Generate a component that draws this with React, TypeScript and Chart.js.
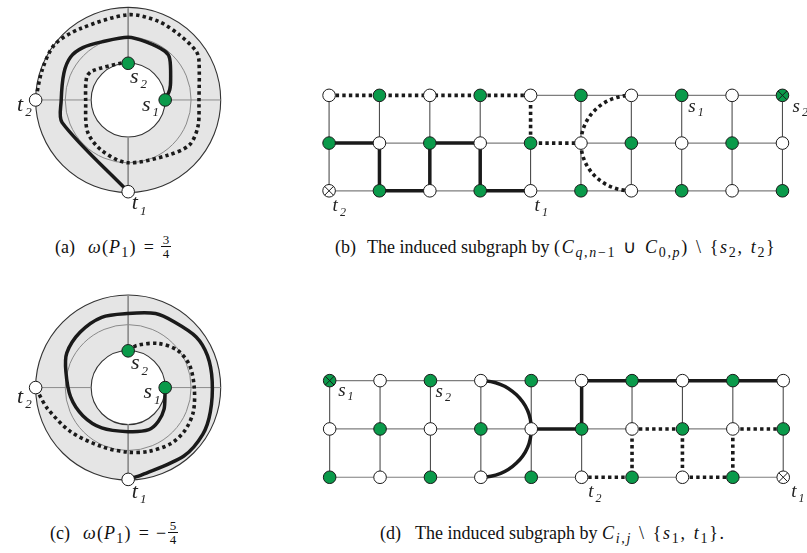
import React, { useEffect, useRef } from "react";
import { Chart, registerables } from "chart.js";

Chart.register(...registerables);

type Pt = [number, number];

// ===================== DATA =====================
// (a), (c): circular drawings. Unit = radius of the outer circle, centre = (0,0)
const RING_INNER = 0.4;
const RING_MIDDLE = 0.68;
const RING_OUTER = 1;

const CIRCLE_NODE_X = [0, 0.4, -1, 0]; // s2, s1, t2, t1
const CIRCLE_NODE_Y = [0.4, 0, 0, -1];
const CIRCLE_NODE_KIND = ["g", "g", "w", "w"];

const A_SOLID_PATH: Pt[] = [
  [0, -1], [-0.714, -0.245], [-0.724, -0.01], [-0.694, 0.296], [-0.622, 0.469],
  [-0.49, 0.571], [-0.286, 0.633], [0, 0.684], [0.194, 0.633], [0.398, 0.531],
  [0.449, 0.449], [0.459, 0.224], [0.449, 0.112], [0.4, 0],
];
const A_DOTTED_PATH: Pt[] = [
  [0, 0.4], [-0.08, 0.4], [-0.388, 0.316], [-0.449, 0.245], [-0.459, -0.01],
  [-0.439, -0.347], [-0.286, -0.551], [-0.01, -0.684], [0.429, -0.602], [0.663, -0.49],
  [0.755, -0.286], [0.765, -0.01], [0.765, 0.429], [0.735, 0.531], [0.561, 0.704],
  [0.327, 0.857], [0, 0.929], [-0.52, 0.776], [-0.796, 0.602], [-0.929, 0.327], [-1, 0],
];
const C_SOLID_PATH: Pt[] = [
  [0, -1], [0.153, -0.949], [0.602, -0.745], [0.806, -0.51], [0.888, -0.265],
  [0.908, 0.071], [0.857, 0.347], [0.735, 0.551], [0.5, 0.714], [0.296, 0.806],
  [-0.01, 0.806], [-0.286, 0.765], [-0.52, 0.602], [-0.663, 0.378], [-0.673, 0.173],
  [-0.622, -0.102], [-0.49, -0.306], [-0.286, -0.439], [0, -0.48], [0.224, -0.459],
  [0.327, -0.367], [0.388, -0.235], [0.398, -0.082], [0.4, 0],
];
const C_DOTTED_PATH: Pt[] = [
  [0, 0.4], [0.092, 0.459], [0.327, 0.48], [0.531, 0.408], [0.663, 0.245],
  [0.714, 0], [0.704, -0.265], [0.612, -0.469], [0.459, -0.612], [0.224, -0.694],
  [0, -0.704], [-0.286, -0.643], [-0.622, -0.48], [-0.867, -0.235], [-0.969, -0.061], [-1, 0],
];

const A_LABELS = [
  { t: "s", sub: "2", x: 0.02, y: 0.19 },
  { t: "s", sub: "1", x: 0.15, y: -0.115 },
  { t: "t", sub: "2", x: -1.2, y: -0.115 },
  { t: "t", sub: "1", x: 0.04, y: -1.19 },
];
const C_LABELS = [
  { t: "s", sub: "2", x: 0.03, y: 0.2 },
  { t: "s", sub: "1", x: 0.165, y: -0.115 },
  { t: "t", sub: "2", x: -1.2, y: -0.165 },
  { t: "t", sub: "1", x: 0.04, y: -1.2 },
];

// (b), (d): 3 x 10 grid graphs. x = column, y = row (0 = top row)
const GRID_COLS = [0, 1, 2, 3, 4, 5, 6, 7, 8, 9];
const GRID_ROWS = [0, 1, 2];
// g = green, w = white, upper case = crossed-out vertex
const B_NODE_ROWS = ["wgwgwgwgwG", "gwgwgwgwgw", "Wgwgwgwgwg"];
const D_NODE_ROWS = ["Gwgwgwgwgw", "wgwgwgwgwg", "gwgwgwgwgW"];

const B_SOLID_PATH: Pt[] = [[0, 1], [1, 1], [1, 2], [2, 2], [2, 1], [3, 1], [3, 2], [4, 2]];
const B_DOTTED_PATH: Pt[] = [[0, 0], [1, 0], [2, 0], [3, 0], [4, 0], [4, 1], [5, 1]];
const B_DOTTED_ARC = { cx: 6, cy: 1, r: 1, side: "left" };

const D_SOLID_PATH: Pt[] = [[4, 1], [5, 1], [5, 0], [6, 0], [7, 0], [8, 0], [9, 0]];
const D_SOLID_ARC = { cx: 3, cy: 1, r: 1, side: "right" };
const D_DOTTED_PATH: Pt[] = [[5, 2], [6, 2], [6, 1], [7, 1], [7, 2], [8, 2], [8, 1], [9, 1]];

const B_LABELS = [
  { t: "t", sub: "2", x: 0.07, y: 2.42 },
  { t: "t", sub: "1", x: 4.08, y: 2.42 },
  { t: "s", sub: "1", x: 7.13, y: 0.34 },
  { t: "s", sub: "2", x: 9.2, y: 0.34 },
];
const D_LABELS = [
  { t: "s", sub: "1", x: 0.17, y: 0.31 },
  { t: "s", sub: "2", x: 2.1, y: 0.33 },
  { t: "t", sub: "2", x: 5.13, y: 2.41 },
  { t: "t", sub: "1", x: 9.16, y: 2.41 },
];

// ===================== STYLE =====================
const GREEN = "#0a9a4a";
const WHITE = "#ffffff";
const INK = "#1a1a1a";
const THICK = 3.5;
const DOT_W = 3.6;
const DOT_DASH = [3.4, 3.2];
const SERIF = '"Liberation Serif", "Times New Roman", serif';

const toXY = (pts: Pt[]) => pts.map(([x, y]) => ({ x, y }));

function lineDS(pts: Pt[], opts: any) {
  return {
    data: toXY(pts),
    showLine: true,
    pointRadius: 0,
    pointHoverRadius: 0,
    fill: false,
    ...opts,
  };
}

function nodesDS(pts: Pt[], kinds: string[]) {
  return {
    data: toXY(pts),
    showLine: false,
    pointRadius: 6.3,
    pointHoverRadius: 6.3,
    pointBackgroundColor: kinds.map((k) => (k.toLowerCase() === "g" ? GREEN : WHITE)),
    pointBorderColor: INK,
    pointBorderWidth: 1,
    order: 1,
    isNodes: true,
  };
}

function crossDS(pts: Pt[]) {
  return {
    data: toXY(pts),
    showLine: false,
    pointStyle: "crossRot",
    pointRadius: 6.3,
    pointHoverRadius: 6.3,
    pointBorderColor: INK,
    pointBorderWidth: 1,
    order: 0,
  };
}

const CROSS_SEGMENTS: Pt[][] = [
  [[0, RING_OUTER], [0, RING_INNER]],
  [[0, -RING_INNER], [0, -RING_OUTER]],
  [[-RING_OUTER, 0], [-RING_INNER, 0]],
  [[RING_INNER, 0], [RING_OUTER, 0]],
];

function circleDatasets(solid: Pt[], dotted: Pt[]) {
  const ds: any[] = [];
  CROSS_SEGMENTS.forEach((seg) => ds.push(lineDS(seg, { borderColor: "#8c8c8c", borderWidth: 1, order: 6 })));
  ds.push(lineDS(dotted, { borderColor: INK, borderWidth: DOT_W, borderDash: DOT_DASH, tension: 0.3, order: 4 }));
  ds.push(lineDS(solid, { borderColor: INK, borderWidth: THICK, tension: 0.3, order: 3 }));
  const pts: Pt[] = CIRCLE_NODE_X.map((x, i) => [x, CIRCLE_NODE_Y[i]]);
  ds.push(nodesDS(pts, CIRCLE_NODE_KIND));
  return ds;
}

function gridDatasets(rows: string[], solid: Pt[], dotted: Pt[]) {
  const ds: any[] = [];
  const key = (a: Pt, b: Pt) => {
    const s = [a.join(","), b.join(",")].sort();
    return s.join("|");
  };
  const hidden = new Set<string>();
  for (let i = 1; i < dotted.length; i++) hidden.add(key(dotted[i - 1], dotted[i]));
  GRID_ROWS.forEach((r) => {
    for (let i = 1; i < GRID_COLS.length; i++) {
      const a: Pt = [GRID_COLS[i - 1], r];
      const b: Pt = [GRID_COLS[i], r];
      if (hidden.has(key(a, b))) continue;
      ds.push(lineDS([a, b], { borderColor: "#7e7e7e", borderWidth: 1.2, order: 6 }));
    }
  });
  GRID_COLS.forEach((c) => {
    for (let j = 1; j < GRID_ROWS.length; j++) {
      const a: Pt = [c, GRID_ROWS[j - 1]];
      const b: Pt = [c, GRID_ROWS[j]];
      if (hidden.has(key(a, b))) continue;
      ds.push(lineDS([a, b], { borderColor: "#4e4e4e", borderWidth: 1.1, order: 6 }));
    }
  });
  ds.push(lineDS(dotted, { borderColor: INK, borderWidth: DOT_W, borderDash: DOT_DASH, order: 4 }));
  ds.push(lineDS(solid, { borderColor: INK, borderWidth: THICK, order: 3 }));
  const pts: Pt[] = [];
  const kinds: string[] = [];
  const crossed: Pt[] = [];
  GRID_ROWS.forEach((r) =>
    GRID_COLS.forEach((c) => {
      const k = rows[r][c];
      pts.push([c, r]);
      kinds.push(k);
      if (k === k.toUpperCase()) crossed.push([c, r]);
    })
  );
  ds.push(nodesDS(pts, kinds));
  ds.push(crossDS(crossed));
  return ds;
}

// ===================== PLUGINS =====================
const ringPlugin = {
  id: "rings",
  beforeDatasetsDraw(chart: any) {
    const { ctx } = chart;
    const xs = chart.scales.x;
    const ys = chart.scales.y;
    const cx = xs.getPixelForValue(0);
    const cy = ys.getPixelForValue(0);
    const rad = (v: number) => xs.getPixelForValue(v) - cx;
    ctx.save();
    ctx.beginPath();
    ctx.arc(cx, cy, rad(RING_OUTER), 0, Math.PI * 2);
    ctx.moveTo(cx + rad(RING_INNER), cy);
    ctx.arc(cx, cy, rad(RING_INNER), 0, Math.PI * 2);
    ctx.fillStyle = "#e5e5e5";
    ctx.fill("evenodd");
    ctx.lineWidth = 1.1;
    ctx.strokeStyle = "#333";
    ctx.beginPath();
    ctx.arc(cx, cy, rad(RING_OUTER), 0, Math.PI * 2);
    ctx.stroke();
    ctx.beginPath();
    ctx.arc(cx, cy, rad(RING_INNER), 0, Math.PI * 2);
    ctx.stroke();
    ctx.lineWidth = 1;
    ctx.strokeStyle = "#8a8a8a";
    ctx.beginPath();
    ctx.arc(cx, cy, rad(RING_MIDDLE), 0, Math.PI * 2);
    ctx.stroke();
    ctx.restore();
  },
};

function arcPlugin(arc: any, dashed: boolean) {
  return {
    id: "arcs",
    beforeDatasetDraw(chart: any, args: any) {
      if (!chart.data.datasets[args.index].isNodes) return;
      const { ctx } = chart;
      const xs = chart.scales.x;
      const ys = chart.scales.y;
      const px = xs.getPixelForValue(arc.cx);
      const py = ys.getPixelForValue(arc.cy);
      const rx = Math.abs(xs.getPixelForValue(arc.cx + arc.r) - px);
      const ry = Math.abs(ys.getPixelForValue(arc.cy + arc.r) - py);
      ctx.save();
      ctx.beginPath();
      if (arc.side === "left") ctx.ellipse(px, py, rx, ry, 0, Math.PI / 2, Math.PI * 1.5);
      else ctx.ellipse(px, py, rx, ry, 0, -Math.PI / 2, Math.PI / 2);
      ctx.strokeStyle = INK;
      ctx.lineWidth = dashed ? DOT_W : THICK;
      ctx.setLineDash(dashed ? DOT_DASH : []);
      ctx.stroke();
      ctx.restore();
    },
  };
}

function labelPlugin(labels: any[], size: number, subSize: number) {
  return {
    id: "labels",
    afterDatasetsDraw(chart: any) {
      const { ctx } = chart;
      const xs = chart.scales.x;
      const ys = chart.scales.y;
      ctx.save();
      ctx.fillStyle = "#222";
      ctx.textBaseline = "alphabetic";
      ctx.textAlign = "left";
      labels.forEach((l) => {
        const px = xs.getPixelForValue(l.x);
        const py = ys.getPixelForValue(l.y);
        ctx.font = `italic ${size}px ${SERIF}`;
        ctx.fillText(l.t, px, py);
        const w = ctx.measureText(l.t).width;
        ctx.font = `italic ${subSize}px ${SERIF}`;
        ctx.fillText(l.sub, px + w + 2, py + size * 0.25);
      });
      ctx.restore();
    },
  };
}

// ===================== FRAMES =====================
function makeFrame(f: { left: number; top: number; w: number; h: number; ox: number; oy: number; ux: number; uy: number; down: boolean }) {
  const xMin = (f.left - f.ox) / f.ux;
  const xMax = (f.left + f.w - f.ox) / f.ux;
  let yMin: number, yMax: number;
  if (f.down) {
    yMin = (f.top - f.oy) / f.uy;
    yMax = (f.top + f.h - f.oy) / f.uy;
  } else {
    yMax = (f.oy - f.top) / f.uy;
    yMin = (f.oy - f.top - f.h) / f.uy;
  }
  return { ...f, xMin, xMax, yMin, yMax, reverse: f.down };
}

const FRAME_A = makeFrame({ left: 0, top: 0, w: 262, h: 228, ox: 128, oy: 99, ux: 98, uy: 98, down: false });
const FRAME_C = makeFrame({ left: 0, top: 280, w: 262, h: 232, ox: 128, oy: 387, ux: 98, uy: 98, down: false });
const FRAME_B = makeFrame({ left: 290, top: 60, w: 517, h: 170, ox: 322.7, oy: 90.7, ux: 51.84, uy: 52.2, down: true });
const FRAME_D = makeFrame({ left: 290, top: 345, w: 517, h: 170, ox: 323.3, oy: 376, ux: 51.86, uy: 52.85, down: true });

function buildConfig(frame: any, datasets: any[], plugins: any[]) {
  return {
    type: "scatter",
    data: { datasets },
    options: {
      animation: false,
      responsive: false,
      maintainAspectRatio: false,
      events: [],
      layout: { padding: 0 },
      plugins: { legend: { display: false }, tooltip: { enabled: false }, title: { display: false } },
      scales: {
        x: { type: "linear", min: frame.xMin, max: frame.xMax, display: false },
        y: { type: "linear", min: frame.yMin, max: frame.yMax, reverse: frame.reverse, display: false },
      },
    },
    plugins,
  } as any;
}

function Panel({ frame, build }: { frame: any; build: () => any }) {
  const ref = useRef<HTMLCanvasElement>(null);
  useEffect(() => {
    const chart = new Chart(ref.current as HTMLCanvasElement, build());
    return () => chart.destroy();
  }, []);
  return (
    <canvas
      ref={ref}
      width={frame.w}
      height={frame.h}
      style={{ position: "absolute", left: frame.left, top: frame.top, width: frame.w, height: frame.h }}
    />
  );
}

// ===================== CAPTIONS =====================
function Sub({ children }: { children: any }) {
  return <span style={{ fontSize: 14, position: "relative", top: 4, lineHeight: 1 }}>{children}</span>;
}
function M({ children, ls = 1.2 }: { children: any; ls?: number }) {
  return <span style={{ letterSpacing: ls }}>{children}</span>;
}
function Frac({ n, d }: { n: string; d: string }) {
  const w = 10;
  return (
    <span style={{ display: "inline-block", position: "relative", width: w, height: 0 }}>
      <span style={{ position: "absolute", left: 0, width: w, textAlign: "center", top: -19.6, fontSize: 13, lineHeight: "13px" }}>{n}</span>
      <span style={{ position: "absolute", left: 0, width: w, top: -6.9, height: 0.8, background: "#111" }} />
      <span style={{ position: "absolute", left: 0, width: w, textAlign: "center", top: -6.3, fontSize: 13, lineHeight: "13px" }}>{d}</span>
    </span>
  );
}
const Gap = ({ w }: { w: number }) => <span style={{ display: "inline-block", width: w }} />;
const cap = (left: number, top: number): any => ({
  position: "absolute",
  left,
  top,
  fontFamily: SERIF,
  fontSize: 18,
  lineHeight: "22px",
  whiteSpace: "nowrap",
  color: "#111",
});

export default function App() {
  return (
    <div style={{ position: "absolute", left: 0, top: 0, width: 807, height: 553, background: "#fff", overflow: "hidden" }}>
      <Panel
        frame={FRAME_A}
        build={() => buildConfig(FRAME_A, circleDatasets(A_SOLID_PATH, A_DOTTED_PATH), [ringPlugin, labelPlugin(A_LABELS, 22, 13)])}
      />
      <Panel
        frame={FRAME_C}
        build={() => buildConfig(FRAME_C, circleDatasets(C_SOLID_PATH, C_DOTTED_PATH), [ringPlugin, labelPlugin(C_LABELS, 22, 13)])}
      />
      <Panel
        frame={FRAME_B}
        build={() =>
          buildConfig(FRAME_B, gridDatasets(B_NODE_ROWS, B_SOLID_PATH, B_DOTTED_PATH), [
            arcPlugin(B_DOTTED_ARC, true),
            labelPlugin(B_LABELS, 19, 12),
          ])
        }
      />
      <Panel
        frame={FRAME_D}
        build={() =>
          buildConfig(FRAME_D, gridDatasets(D_NODE_ROWS, D_SOLID_PATH, D_DOTTED_PATH), [
            arcPlugin(D_SOLID_ARC, false),
            labelPlugin(D_LABELS, 19, 12),
          ])
        }
      />

      <div style={cap(55, 235.9)}>
        (a)<Gap w={13} />
        <M>
          <i>ω</i>(<i>P</i>
          <Sub>1</Sub>)
        </M>
        <Gap w={7} />=<Gap w={7} />
        <Frac n="3" d="4" />
      </div>
      <div style={cap(335, 235.9)}>
        (b)<Gap w={11} />
        The induced subgraph by{" "}
        <M ls={1.7}>
          (<i>C</i>
          <Sub>
            <i>q</i>,<i>n</i>−1
          </Sub>
          <Gap w={7} />∪<Gap w={7} />
          <i>C</i>
          <Sub>
            0,<i>p</i>
          </Sub>
          )<Gap w={7} />\<Gap w={7} />
          {"{"}
          <i>s</i>
          <Sub>2</Sub>,<Gap w={7} />
          <i>t</i>
          <Sub>2</Sub>
          {"}"}
        </M>
      </div>
      <div style={cap(50, 521.9)}>
        (c)<Gap w={13} />
        <M>
          <i>ω</i>(<i>P</i>
          <Sub>1</Sub>)
        </M>
        <Gap w={7} />=<Gap w={7} />−<Gap w={2} />
        <Frac n="5" d="4" />
      </div>
      <div style={cap(380, 521.9)}>
        (d)<Gap w={14} />
        The induced subgraph by{" "}
        <M ls={1.7}>
          <i>C</i>
          <Sub>
            <i>i</i>,<i>j</i>
          </Sub>
          <Gap w={7} />\<Gap w={7} />
          {"{"}
          <i>s</i>
          <Sub>1</Sub>,<Gap w={7} />
          <i>t</i>
          <Sub>1</Sub>
          {"}"}.
        </M>
      </div>
    </div>
  );
}
